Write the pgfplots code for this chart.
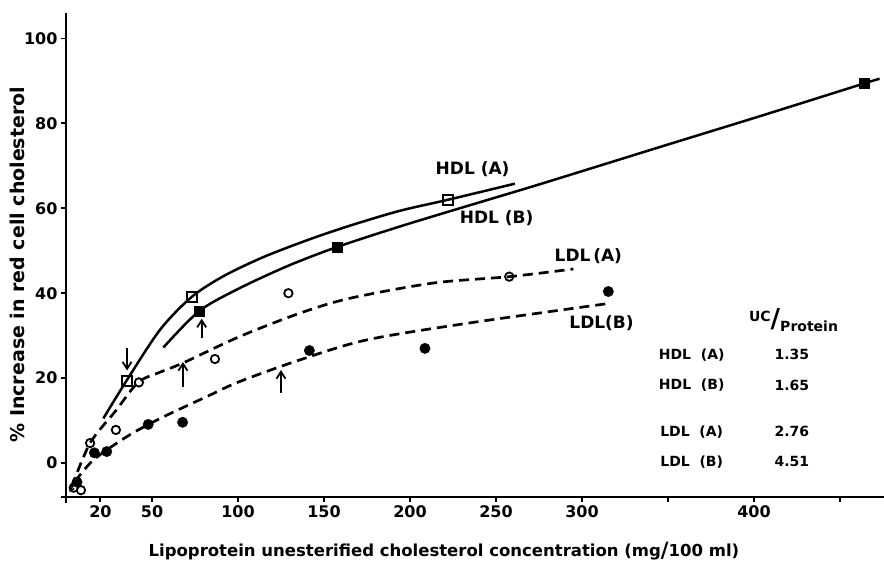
\documentclass[border=0pt]{standalone}
\usepackage{fontspec}
\setmainfont{DejaVu Sans}
\usepackage{pgfplots}
\pgfplotsset{compat=1.18}
\usetikzlibrary{arrows.meta}

% fitted curves and annotation arrows
\tikzset{
  fitA/.style={black, line width=2.5pt, smooth, no marks},
  fitB/.style={black, line width=2.7pt, smooth, no marks, dash pattern=on 10pt off 6pt},
  ann/.style={line width=1.8pt, -{Straight Barb[length=7pt,width=9pt]}},
}

\begin{document}
\begin{tikzpicture}
\begin{axis}[
    name=ax,
    scale only axis,
    width=818pt, height=484pt,
    xmin=0, xmax=475.6,
    ymin=-8, ymax=106,
    axis x line*=bottom, axis y line*=left,
    axis line style={-, line width=2.2pt},
    tick align=outside,
    major tick length=5pt,
    tick style={line width=1.8pt, black},
    xtick={20,50,100,150,200,250,300,350,400,450},
    xticklabels={20,50,100,150,200,250,300,,400,},
    ytick={0,20,40,60,80,100},
    ticklabel style={font=\bfseries\fontsize{16}{18}\selectfont},
    /pgf/number format/assume math mode=true,
    xlabel={Lipoprotein unesterified cholesterol concentration (mg\raisebox{-1pt}{\fontsize{21}{21}\selectfont/}100 ml)},
    xlabel style={font=\bfseries\fontsize{16.5}{18}\selectfont, at={(axis description cs:0.462,-0.112)}, anchor=center},
    ylabel={\% Increase in red cell cholesterol},
    ylabel style={font=\bfseries\fontsize{19}{21}\selectfont, at={(axis description cs:-0.06,0.48)}, anchor=center},
    clip=false,
]

% HDL (A)
\addplot[fitA] coordinates {
  (21.7,10.5)(35.5,19.6)(54.7,31.4)(73,39.1)(91.5,44)(114.7,48.5)(141,52.6)
  (165,55.9)(194,59.4)(222,62)(261,65.8)
};
% HDL (B)
\addplot[fitA] coordinates {
  (56.6,27.2)(77.5,35.8)(101,41.2)(130,46.6)(157.7,50.9)(194,55.7)(233,60.5)
  (271.7,65.2)(310,70)(345,74.4)(403.5,81.7)(464,89.4)(473,90.5)
};
% LDL (A)
\addplot[fitB] coordinates {
  (3.3,-5.6)(14,4.7)(28.5,12.1)(42,19)(54.7,21.4)(68.2,23.6)(101,29.8)
  (136,35.3)(165,38.8)(213.6,42.4)(257.7,43.9)(295,45.7)
};
% LDL (B)
\addplot[fitB] coordinates {
  (5.2,-4.4)(15.9,0.7)(35.3,6.2)(54.7,10.5)(83.7,16)(101,19.2)(136,24.3)
  (174.8,29)(233,32.9)(314,37.5)
};

% data points
\addplot[only marks, mark=square, mark size=5pt, mark options={line width=1.8pt, fill=white}]
  coordinates {(35.5,19.4)(73.1,39.1)(221.9,62.0)};
\addplot[only marks, mark=square*, mark size=5pt, black]
  coordinates {(77.5,35.8)(157.7,50.9)(464,89.4)};
\addplot[only marks, mark=o, mark size=4.2pt, mark options={line width=1.8pt, fill=white}]
  coordinates {(4.5,-5.8)(8.7,-6.4)(14,4.7)(29,7.8)(42.4,19.0)(86.6,24.5)(129.3,40.0)(257.7,43.9)};
\addplot[only marks, mark=*, mark size=5.2pt, black]
  coordinates {(6.4,-4.5)(16.5,2.4)(23.7,2.7)(47.8,9.1)(67.8,9.6)(141.5,26.5)(208.7,27.0)(315.3,40.4)};

% arrows
\draw[ann] (axis cs:35.5,27) -- (axis cs:35.5,21.8);
\draw[ann] (axis cs:68,17.8) -- (axis cs:68,23.8);
\draw[ann] (axis cs:78.9,29.5) -- (axis cs:78.9,34.0);
\draw[ann] (axis cs:125,16.5) -- (axis cs:125,21.9);
\draw[line width=1.4pt, -{Straight Barb[length=4pt,width=5pt]}] (axis cs:6,-4) -- (axis cs:2,-6.8);

% axis line stubs past the corner
\draw[line width=2.2pt] (axis cs:-3,-8) -- (axis cs:0,-8) -- (axis cs:0,-9.3);

% curve labels
\begin{scope}[every node/.style={font=\bfseries\fontsize{17}{19}\selectfont}]
\node at (axis cs:236.4,69.1) {HDL (A)};
\node at (axis cs:250.4,57.7) {HDL (B)};
\node at (axis cs:303.7,48.7) {LDL\,(A)};
\node at (axis cs:311.4,32.9) {LDL(B)};
\end{scope}

% UC/protein table
\begin{scope}[every node/.style={font=\bfseries\fontsize{14}{16}\selectfont}]
\node at (axis cs:423,33.7) {\raisebox{6pt}{UC}{\fontsize{26}{26}\selectfont/}\raisebox{-4pt}{Protein}};
\node at (axis cs:363.8,25.5) {HDL\ \ (A)};
\node at (axis cs:422,25.5) {1.35};
\node at (axis cs:363.8,18.4) {HDL\ \ (B)};
\node at (axis cs:422,18.4) {1.65};
\node at (axis cs:363.8,7.4) {LDL\ \ (A)};
\node at (axis cs:422,7.4) {2.76};
\node at (axis cs:363.8,0.3) {LDL\ \ (B)};
\node at (axis cs:422,0.3) {4.51};
\end{scope}

\end{axis}
\pgfresetboundingbox
\path[use as bounding box] (ax.south west) ++(-66pt,-67pt) rectangle ([yshift=13pt]ax.north east);
\end{tikzpicture}
\end{document}
